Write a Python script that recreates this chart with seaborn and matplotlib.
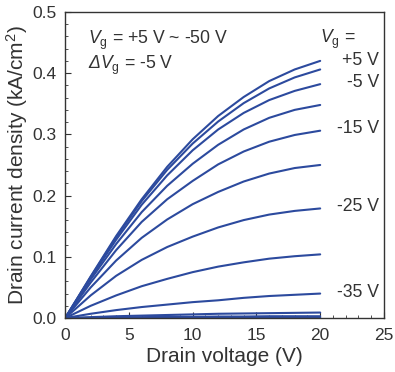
import numpy as np
import pandas as pd
import matplotlib
matplotlib.use("Agg")
import matplotlib.pyplot as plt
from matplotlib.ticker import MultipleLocator
import seaborn as sns

# drain voltage sample points (V)
vd = [0, 2, 4, 6, 8, 10, 12, 14, 16, 18, 20]

# gate voltages (V)
vg = [5, 0, -5, -10, -15, -20, -25, -30, -35, -40, -45, -50]

# drain current density (kA/cm2), one list per gate voltage
j_p5 = [0, 0.068, 0.134, 0.194, 0.247, 0.292, 0.330, 0.361, 0.387, 0.406, 0.420]
j_0 = [0, 0.067, 0.132, 0.191, 0.242, 0.285, 0.321, 0.351, 0.375, 0.393, 0.406]
j_m5 = [0, 0.066, 0.128, 0.185, 0.233, 0.274, 0.308, 0.335, 0.356, 0.371, 0.382]
j_m10 = [0, 0.063, 0.121, 0.173, 0.216, 0.252, 0.283, 0.308, 0.327, 0.340, 0.348]
j_m15 = [0, 0.058, 0.111, 0.157, 0.194, 0.224, 0.251, 0.272, 0.288, 0.299, 0.306]
j_m20 = [0, 0.050, 0.094, 0.131, 0.161, 0.186, 0.206, 0.223, 0.236, 0.245, 0.250]
j_m25 = [0, 0.037, 0.069, 0.095, 0.116, 0.133, 0.148, 0.160, 0.169, 0.175, 0.179]
j_m30 = [0, 0.020, 0.037, 0.052, 0.064, 0.075, 0.084, 0.091, 0.097, 0.101, 0.104]
j_m35 = [0, 0.007, 0.013, 0.018, 0.022, 0.026, 0.029, 0.033, 0.036, 0.038, 0.040]
j_m40 = [0, 0.0015, 0.003, 0.004, 0.005, 0.006, 0.007, 0.0075, 0.008, 0.0085, 0.009]
j_m45 = [0, 0.0005, 0.001, 0.0015, 0.002, 0.002, 0.0025, 0.0025, 0.003, 0.003, 0.003]
j_m50 = [0, 0, 0, 0, 0.0005, 0.0005, 0.0005, 0.001, 0.001, 0.001, 0.001]

curves = [j_p5, j_0, j_m5, j_m10, j_m15, j_m20, j_m25, j_m30, j_m35, j_m40, j_m45, j_m50]

# right side labels and their heights (kA/cm2)
label_txt = ["+5 V", "-5 V", "-15 V", "-25 V", "-35 V"]
label_y = [0.420, 0.384, 0.309, 0.183, 0.042]

rows = []
for g, c in zip(vg, curves):
    for x, y in zip(vd, c):
        rows.append({"vg": g, "vd": x, "j": y})
df = pd.DataFrame(rows)

sns.set_style("ticks")
plt.rcParams['font.family'] = ['Liberation Sans', 'DejaVu Sans']
plt.rcParams['mathtext.fontset'] = 'custom'
plt.rcParams['mathtext.rm'] = 'Liberation Sans'
plt.rcParams['mathtext.it'] = 'Liberation Sans:italic'
# mathtext keeps capital greek upright in \mathit, so use sf slot for an italic delta
plt.rcParams['mathtext.sf'] = 'Liberation Sans:italic'

fig = plt.figure(figsize=(3.95, 3.72), dpi=100)
ax = fig.add_axes([0.165, 0.145, 0.807, 0.823])

blue = "#2c4a9e"
sns.lineplot(data=df, x="vd", y="j", units="vg", estimator=None,
             color=blue, linewidth=1.5, ax=ax)

ax.set_xlim(0, 25)
ax.set_ylim(0, 0.5)
ax.xaxis.set_major_locator(MultipleLocator(5))
ax.xaxis.set_minor_locator(MultipleLocator(1))
ax.yaxis.set_major_locator(MultipleLocator(0.1))
ax.yaxis.set_minor_locator(MultipleLocator(0.02))
ax.tick_params(which="both", direction="in", colors="#333333", labelcolor="#333333")
ax.tick_params(which="major", length=4, labelsize=12.5)
ax.tick_params(which="minor", length=2)
ax.tick_params(axis="x", which="major", pad=7)
ax.tick_params(axis="y", which="major", pad=6)
for s in ax.spines.values():
    s.set_color("#333333")
    s.set_linewidth(1.0)

ax.set_xlabel("Drain voltage (V)", fontsize=15, color="#333333", labelpad=3)
ax.set_ylabel("Drain current density (kA/cm$^2$)", fontsize=15, color="#333333", labelpad=2)

ax.text(1.8, 0.453, r"$V_\mathrm{g}$ = +5 V ~ -50 V", fontsize=12.7, color="#333333", va="center")
ax.text(1.8, 0.412, r"$\mathsf{\Delta}V_\mathrm{g}$ = -5 V", fontsize=12.7, color="#333333", va="center")
ax.text(20.0, 0.455, r"$V_\mathrm{g}$ =", fontsize=12.7, color="#333333", va="center")
for t, y in zip(label_txt, label_y):
    ax.text(24.6, y, t, fontsize=12.7, color="#333333", va="center", ha="right")

fig.savefig("out.png", dpi=100)
